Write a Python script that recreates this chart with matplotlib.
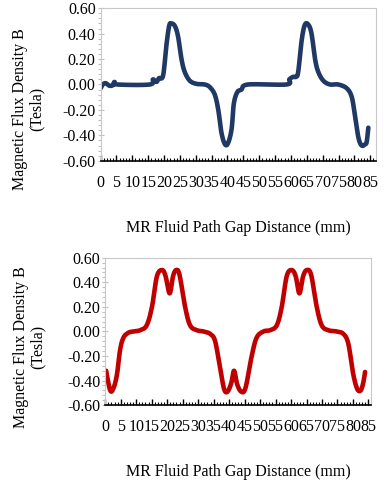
import numpy as np
import matplotlib
matplotlib.use("Agg")
import matplotlib.pyplot as plt
from matplotlib.ticker import MultipleLocator

# Top chart data (mm, Tesla)
top_x = [0.0, 0.7, 1.6, 2.8, 3.9, 4.4, 5.2, 15.5, 16.5, 17.6, 18.4, 19.7, 20.7, 21.6, 22.3,
         23.4, 24.4, 25.5, 26.5, 28.1, 30.2, 32.8, 34.4, 36.0, 37.1, 38.1, 39.2, 40.2, 41.3,
         42.0, 43.1, 44.4, 46.5, 58.6, 59.5, 60.7, 61.6, 62.3, 63.4, 64.4, 65.5, 66.5, 67.6,
         68.6, 70.2, 72.3, 74.9, 77.6, 79.2, 80.2, 81.3, 82.3, 83.4, 83.9, 84.4]
top_b = [-0.03, 0.0, 0.01, -0.01, -0.005, 0.02, 0.0, 0.0, 0.04, 0.02, 0.05, 0.07, 0.30, 0.46, 0.48,
         0.46, 0.38, 0.20, 0.10, 0.03, 0.005, 0.0, -0.02, -0.08, -0.20, -0.38, -0.47, -0.46, -0.35,
         -0.15, -0.06, -0.04, 0.0, 0.0, 0.04, 0.06, 0.06, 0.10, 0.35, 0.47, 0.47, 0.40, 0.20,
         0.10, 0.03, 0.0, 0.0, -0.03, -0.10, -0.25, -0.42, -0.48, -0.47, -0.45, -0.34]

# Bottom chart data (mm, Tesla)
bot_x = [0.3, 1.6, 2.7, 3.8, 4.8, 5.9, 7.5, 9.1, 11.3, 13.4, 15.1, 16.7, 18.4, 19.5, 20.8,
         21.9, 22.9, 24.0, 25.8, 27.4, 29.6, 31.7, 33.9, 35.5, 37.1, 38.4, 39.5, 40.7, 41.6,
         42.6, 43.9, 45.3, 47.3, 48.9, 51.1, 53.2, 55.4, 57.0, 58.6, 60.2, 61.5, 62.7, 63.9,
         65.1, 66.5, 68.3, 69.9, 72.0, 74.7, 76.9, 78.5, 80.1, 81.4, 82.5, 83.3, 83.9]
bot_b = [-0.32, -0.48, -0.46, -0.35, -0.15, -0.05, -0.01, 0.0, 0.01, 0.05, 0.20, 0.45, 0.50, 0.45, 0.31,
         0.45, 0.50, 0.46, 0.20, 0.05, 0.01, 0.0, -0.02, -0.08, -0.30, -0.47, -0.49, -0.42, -0.32,
         -0.43, -0.49, -0.46, -0.20, -0.05, 0.0, 0.01, 0.05, 0.20, 0.45, 0.50, 0.45, 0.31, 0.45,
         0.50, 0.46, 0.20, 0.05, 0.01, 0.0, -0.02, -0.10, -0.35, -0.47, -0.48, -0.42, -0.33]

x_ticks = list(range(0, 90, 5))
y_ticks = [-0.6, -0.4, -0.2, 0.0, 0.2, 0.4, 0.6]

plt.rcParams['font.family'] = ['Liberation Serif', 'DejaVu Serif']

fig = plt.figure(figsize=(3.84, 4.8), dpi=100)
FS = 11.5

def smooth(xs, ys):
    xs = np.asarray(xs); ys = np.asarray(ys)
    px, py = [], []
    P = np.column_stack([xs, ys])
    P = np.vstack([P[0], P, P[-1]])
    for i in range(1, len(P) - 2):
        p0, p1, p2, p3 = P[i-1], P[i], P[i+1], P[i+2]
        t = np.linspace(0, 1, 12, endpoint=False)[:, None]
        pts = 0.5 * ((2*p1) + (-p0 + p2)*t + (2*p0 - 5*p1 + 4*p2 - p3)*t**2 + (-p0 + 3*p1 - 3*p2 + p3)*t**3)
        px.extend(pts[:, 0]); py.extend(pts[:, 1])
    px.append(xs[-1]); py.append(ys[-1])
    return np.array(px), np.array(py)

def style(ax, xmax, lab_x, lab_y):
    ax.set_xlim(0, xmax)
    ax.set_ylim(-0.6, 0.6)
    ax.set_xticks(x_ticks)
    ax.set_xticklabels([str(t) for t in x_ticks])
    ax.xaxis.set_minor_locator(MultipleLocator(1))
    ax.set_yticks(y_ticks)
    ax.set_yticklabels([f"{t:.2f}" for t in y_ticks])
    ax.yaxis.set_minor_locator(MultipleLocator(0.04))
    for s in ['top', 'right', 'left']:
        ax.spines[s].set_color('#c8c8c8')
        ax.spines[s].set_linewidth(0.8)
    ax.spines['bottom'].set_color('black')
    ax.spines['bottom'].set_linewidth(1.2)
    ax.tick_params(axis='x', which='major', direction='in', length=4, width=1, color='black',
                   labelsize=FS, pad=10)
    ax.tick_params(axis='x', which='minor', direction='in', length=2, width=0.8, color='black')
    ax.tick_params(axis='y', which='major', direction='inout', length=5, width=0.8, color='#c0c0c0',
                   labelsize=FS, pad=1)
    ax.tick_params(axis='y', which='minor', direction='out', length=2.5, width=0.8, color='#c0c0c0')
    ax.set_ylabel("Magnetic Flux Density B\n(Tesla)", fontsize=FS, linespacing=1.05)
    ax.yaxis.set_label_coords(lab_x, lab_y)
    ax.set_xlabel("MR Fluid Path Gap Distance (mm)", fontsize=FS, labelpad=21)

ax1 = fig.add_axes([0.262, 0.665, 0.717, 0.318])
sx, sy = smooth(top_x, top_b)
ax1.plot(sx, sy, color='#203864', lw=3.3, solid_capstyle='round', solid_joinstyle='round')
style(ax1, 86.8, -0.205, 0.34)

ax2 = fig.add_axes([0.274, 0.156, 0.692, 0.307])
sx, sy = smooth(bot_x, bot_b)
ax2.plot(sx, sy, color='#C00000', lw=3.3, solid_capstyle='round', solid_joinstyle='round')
style(ax2, 85.8, -0.225, 0.394)

fig.savefig("out.png", dpi=100)
